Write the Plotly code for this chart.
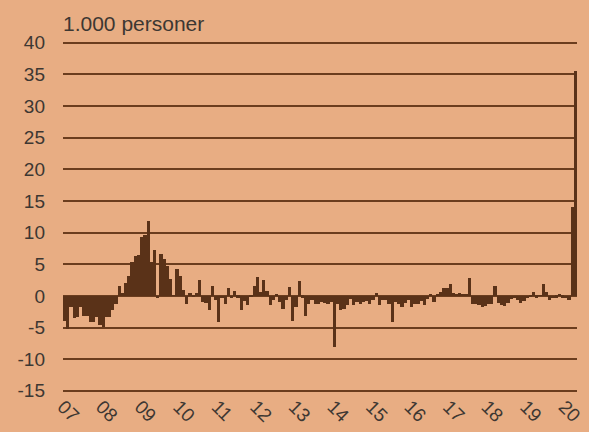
import plotly.graph_objects as go
import pandas as pd

# Monthly change, 1.000 persons, Jan 2007 - Apr 2020
v2007 = [-4.0, -5.2, -1.8, -3.5, -3.3, -1.7, -3.1, -3.2, -4.2, -4.2, -3.3, -4.6]
v2008 = [-4.9, -3.3, -3.4, -2.2, -1.2, 1.6, 0.4, 2.1, 3.2, 5.4, 6.3, 6.5]
v2009 = [9.3, 9.7, 11.8, 5.3, 7.3, -0.4, 6.6, 5.8, 4.7, 2.7, 0.1, 4.2]
v2010 = [3.2, 1.0, -1.3, 0.4, -0.2, 0.4, 2.5, -0.9, -1.1, -2.2, 1.5, -0.7]
v2011 = [-4.2, -0.4, -1.2, 1.3, -0.4, 0.7, -0.3, -2.3, -0.8, -1.5, -0.2, 1.5]
v2012 = [3.0, 0.6, 2.5, 0.8, -1.5, -0.7, 0.2, -1.0, -2.0, -0.6, 1.4, -4.0]
v2013 = [-1.7, 2.4, -0.3, -3.1, -1.3, -0.7, -1.3, -1.3, -1.0, -1.1, -1.3, -1.0]
v2014 = [-8.1, -1.3, -2.2, -2.0, -1.5, -0.5, -1.5, -1.0, -1.3, -1.0, -0.8, -1.3]
v2015 = [-0.6, 0.4, -1.4, -0.6, -0.7, -1.2, -4.2, -1.0, -1.3, -1.7, -1.1, -0.7]
v2016 = [-1.8, -1.2, -1.3, -0.8, -1.5, -0.5, 0.2, -1.0, 0.3, 0.6, 1.3, 1.2]
v2017 = [1.9, 0.4, 0.2, 0.5, 0.2, 0.3, 2.8, -1.2, -1.2, -1.4, -1.7, -1.6]
v2018 = [-1.3, -1.2, 1.5, -1.1, -1.4, -1.6, -1.1, -0.5, -0.4, -0.6, -1.1, -0.8]
v2019 = [-0.4, -0.2, 0.6, -0.3, 0.1, 1.9, 0.6, -0.6, -0.4, -0.3, 0.3, -0.3]
v2020 = [-0.4, -0.6, 14.0, 35.5]

values = (v2007 + v2008 + v2009 + v2010 + v2011 + v2012 + v2013 + v2014
          + v2015 + v2016 + v2017 + v2018 + v2019 + v2020)
months = [str(p) for p in pd.period_range("2007-01", periods=len(values), freq="M")]
year_labels = ["07", "08", "09", "10", "11", "12", "13", "14", "15", "16", "17", "18", "19", "20"]
y_ticks = [-15, -10, -5, 0, 5, 10, 15, 20, 25, 30, 35, 40]

x_idx = list(range(len(values)))
year_pos = [months.index(f"20{yl}-01") - 0.5 for yl in year_labels]

BG = "#E8AD83"
BAR = "#5A3218"
GRID = "#6B3D1E"
TXT = "#3d3732"

fig = go.Figure(go.Bar(
    x=x_idx, y=values, marker=dict(color=BAR, line=dict(width=0)),
    hovertext=months,
))

fig.update_layout(
    width=589, height=432,
    paper_bgcolor=BG, plot_bgcolor=BG,
    margin=dict(l=63, r=12, t=39, b=38, autoexpand=False),
    bargap=0,
    showlegend=False,
    font=dict(family="Liberation Sans, Arial, sans-serif", size=19, color=TXT),
    annotations=[dict(
        text="1.000 personer", xref="paper", yref="paper", x=0, y=1,
        xanchor="left", yanchor="bottom", yshift=2, xshift=-2, showarrow=False,
        font=dict(size=21, color=TXT),
    )],
)
fig.update_xaxes(
    range=[-0.5, len(values) - 0.5], tickvals=year_pos, ticktext=year_labels,
    tickangle=45, showgrid=False, zeroline=False, showline=False, ticks="",
    tickfont=dict(size=19, color=TXT), automargin=False, ticklabelstandoff=-3,
)
fig.update_yaxes(
    range=[-15.5, 40.6], tickvals=y_ticks, ticktext=[str(t) for t in y_ticks],
    showgrid=True, gridcolor=GRID, gridwidth=1.5,
    zeroline=True, zerolinecolor=GRID, zerolinewidth=1.5,
    showline=False, ticks="", ticklabelstandoff=17,
    tickfont=dict(size=19, color=TXT), automargin=False,
)

fig.write_html(
    "out.html",
    config={"displayModeBar": False},
    post_script=(
        "document.body.style.margin='0';"
        "document.body.style.overflow='hidden';"
        f"document.body.style.background='{BG}';"
    ),
)
